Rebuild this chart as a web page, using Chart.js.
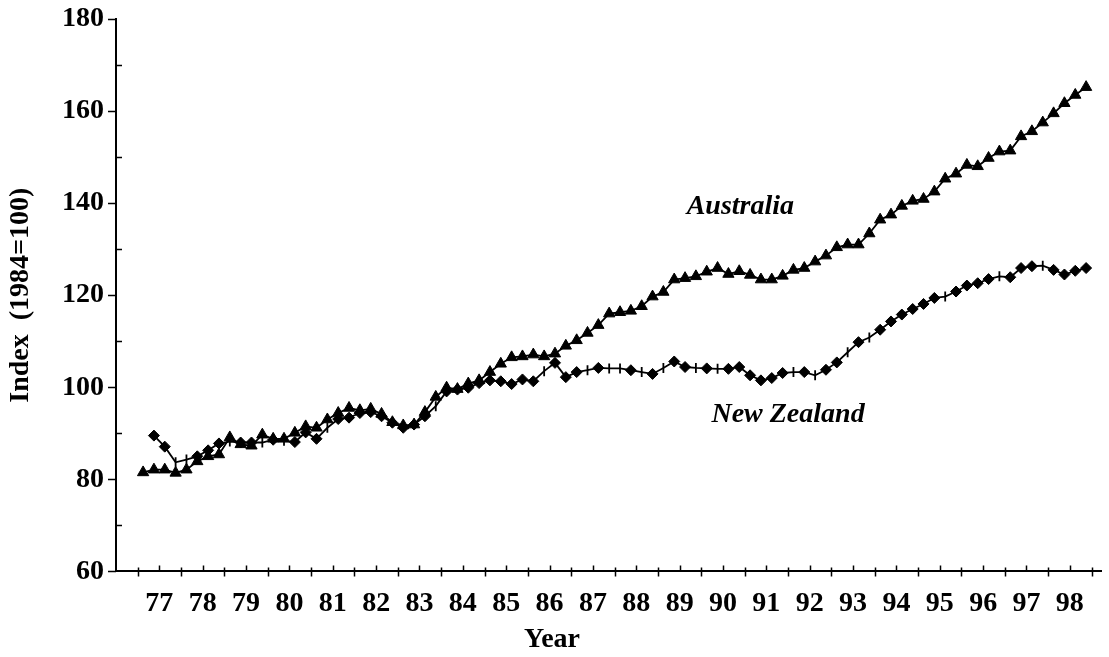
<!DOCTYPE html>
<html>
<head>
<meta charset="utf-8">
<script src="https://cdn.jsdelivr.net/npm/chart.js@4/dist/chart.umd.min.js"></script>
<style>
  html, body { margin: 0; padding: 0; background: #fff; }
</style>
</head>
<body>
<canvas id="chart" width="1109" height="657"></canvas>
<script>
const serif = '"Liberation Serif", "Times New Roman", serif';

// years shown on the x axis (quarterly data, 1977 Q1 - 1998 Q4)
const years = [1977, 1978, 1979, 1980, 1981, 1982, 1983, 1984, 1985, 1986, 1987,
  1988, 1989, 1990, 1991, 1992, 1993, 1994, 1995, 1996, 1997, 1998];
const quarters = [];
years.forEach(yr => { for (let q = 0; q < 4; q++) quarters.push(yr + (q + 0.5) / 4); });

const australia = [
  81.5, 82.1, 82.1, 81.4, 82.1, 83.9, 85.0, 85.4,
  89.1, 87.6, 87.3, 89.7, 88.8, 88.8, 90.1, 91.5,
  91.2, 93.0, 94.4, 95.5, 95.0, 95.3, 94.2, 92.4,
  91.7, 91.9, 94.6, 97.9, 99.9, 99.6, 100.8, 101.5,
  103.3, 105.1, 106.5, 106.7, 107.1, 106.7, 107.3, 109.0,
  110.2, 111.8, 113.5, 116.0, 116.3, 116.6, 117.6, 119.7,
  120.7, 123.4, 123.7, 124.1, 125.1, 125.9, 124.6, 125.2,
  124.4, 123.4, 123.4, 124.2, 125.5, 125.9, 127.3, 128.6,
  130.4, 131.0, 131.0, 133.4, 136.4, 137.5, 139.4, 140.5,
  140.9, 142.5, 145.3, 146.4, 148.3, 148.0, 149.8, 151.2,
  151.4, 154.5, 155.6, 157.5, 159.5, 161.7, 163.5, 165.2
];

const newZealand = [
  null, 89.5, 87.1, 83.7, 84.3, 85.0, 86.3, 87.8,
  88.2, 88.0, 88.0, 88.0, 88.6, 88.4, 88.1, 90.2,
  88.8, 91.2, 93.1, 93.4, 94.4, 94.6, 93.7, 92.3,
  91.2, 91.9, 93.7, 95.9, 99.1, 99.5, 99.9, 100.9,
  101.5, 101.3, 100.7, 101.7, 101.3, 103.5, 105.3, 102.2,
  103.3, 103.7, 104.2, 104.1, 104.1, 103.7, 103.3, 102.9,
  104.2, 105.6, 104.4, 104.2, 104.1, 104.0, 104.0, 104.4,
  102.6, 101.5, 102.0, 103.1, 103.3, 103.3, 102.6, 103.8,
  105.4, 107.6, 109.8, 110.8, 112.5, 114.3, 115.8, 117.0,
  118.1, 119.4, 119.7, 120.8, 122.1, 122.6, 123.5, 124.1,
  123.9, 125.9, 126.3, 126.4, 125.5, 124.5, 125.3, 125.9
];

// quarters where the NZ marker shows as a plain cross tick instead of a diamond
const nzCrossPoints = [3, 4, 8, 11, 13, 17, 27, 37, 41, 43, 44, 46, 48, 51,
  53, 60, 62, 65, 67, 74, 79, 83];

const yMajor = [60, 80, 100, 120, 140, 160, 180];
const yMinor = [70, 90, 110, 130, 150, 170];

const isCross = c => nzCrossPoints.includes(c.dataIndex);

// tick marks like the original: crossing major ticks, inside minor ticks
const axisTicks = {
  id: 'axisTicks',
  afterDraw(chart) {
    const { ctx, chartArea: a, scales: { x, y } } = chart;
    ctx.save();
    ctx.strokeStyle = '#000';
    ctx.lineWidth = 1.5;
    ctx.beginPath();
    years.concat([1999]).forEach(yr => {
      const px = Math.round(x.getPixelForValue(yr)) + 0.5;
      ctx.moveTo(px, a.bottom - 4);
      ctx.lineTo(px, a.bottom + 5);
    });
    years.forEach(yr => {
      const px = Math.round(x.getPixelForValue(yr + 0.5)) + 0.5;
      ctx.moveTo(px, a.bottom);
      ctx.lineTo(px, a.bottom - 6);
    });
    yMajor.forEach(v => {
      const py = Math.round(y.getPixelForValue(v)) + 0.5;
      ctx.moveTo(a.left - 8, py);
      ctx.lineTo(a.left, py);
    });
    yMinor.forEach(v => {
      const py = Math.round(y.getPixelForValue(v)) + 0.5;
      ctx.moveTo(a.left, py);
      ctx.lineTo(a.left + 6, py);
    });
    ctx.stroke();

    // series names
    ctx.fillStyle = '#000';
    ctx.font = 'italic bold 28px ' + serif;
    ctx.textAlign = 'center';
    ctx.textBaseline = 'middle';
    ctx.fillText('Australia', x.getPixelForValue(1990.9), y.getPixelForValue(139.2));
    ctx.fillText('New Zealand', x.getPixelForValue(1992.0), y.getPixelForValue(94.1));
    ctx.restore();
  }
};

new Chart(document.getElementById('chart'), {
  type: 'line',
  data: {
    datasets: [
      {
        label: 'New Zealand',
        data: quarters.map((q, i) => ({ x: q, y: newZealand[i] })),
        borderColor: '#000',
        borderWidth: 1.8,
        backgroundColor: '#000',
        pointStyle: c => isCross(c) ? 'line' : 'rectRot',
        pointRotation: c => isCross(c) ? 90 : 0,
        pointRadius: c => isCross(c) ? 5 : 5.5,
        pointBorderWidth: c => isCross(c) ? 1.8 : 1,
        pointBorderColor: '#000',
        pointBackgroundColor: '#000',
        tension: 0
      },
      {
        label: 'Australia',
        data: quarters.map((q, i) => ({ x: q, y: australia[i] })),
        borderColor: '#000',
        borderWidth: 1.8,
        backgroundColor: '#000',
        pointStyle: 'triangle',
        pointRadius: 6.5,
        pointBorderWidth: 1,
        pointBorderColor: '#000',
        pointBackgroundColor: '#000',
        tension: 0
      }
    ]
  },
  options: {
    responsive: false,
    animation: false,
    devicePixelRatio: 1,
    layout: { padding: { top: 19, right: 5, left: 0, bottom: 0 } },
    plugins: {
      legend: { display: false },
      tooltip: { enabled: false },
      title: {
        display: true,
        position: 'bottom',
        text: 'Year',
        color: '#000',
        font: { family: serif, size: 28, weight: 'bold' },
        padding: { top: 2, bottom: 0 }
      }
    },
    scales: {
      x: {
        type: 'linear',
        min: 1976.5,
        max: 1999.23,
        afterBuildTicks: s => { s.ticks = years.map(yr => ({ value: yr + 0.5 })); },
        afterFit: s => { s.height = 50; s.paddingLeft = 0; s.paddingRight = 0; },
        ticks: {
          autoSkip: false,
          maxRotation: 0,
          color: '#000',
          padding: 16,
          font: { family: serif, size: 28, weight: 'bold' },
          callback: v => String(Math.floor(v)).slice(2)
        },
        grid: { display: false, drawTicks: false },
        border: { display: true, color: '#000', width: 2 }
      },
      y: {
        min: 60,
        max: 180,
        afterFit: s => { s.width = 116; s.paddingTop = 0; s.paddingBottom = 0; },
        ticks: {
          stepSize: 20,
          color: '#000',
          padding: 12,
          font: { family: serif, size: 28, weight: 'bold' }
        },
        grid: { display: false, drawTicks: false },
        border: { display: true, color: '#000', width: 2 },
        title: {
          display: true,
          text: 'Index  (1984=100)',
          color: '#000',
          font: { family: serif, size: 28, weight: 'bold' },
          padding: { top: 4, bottom: 0 }
        }
      }
    }
  },
  plugins: [axisTicks]
});
</script>
</body>
</html>
